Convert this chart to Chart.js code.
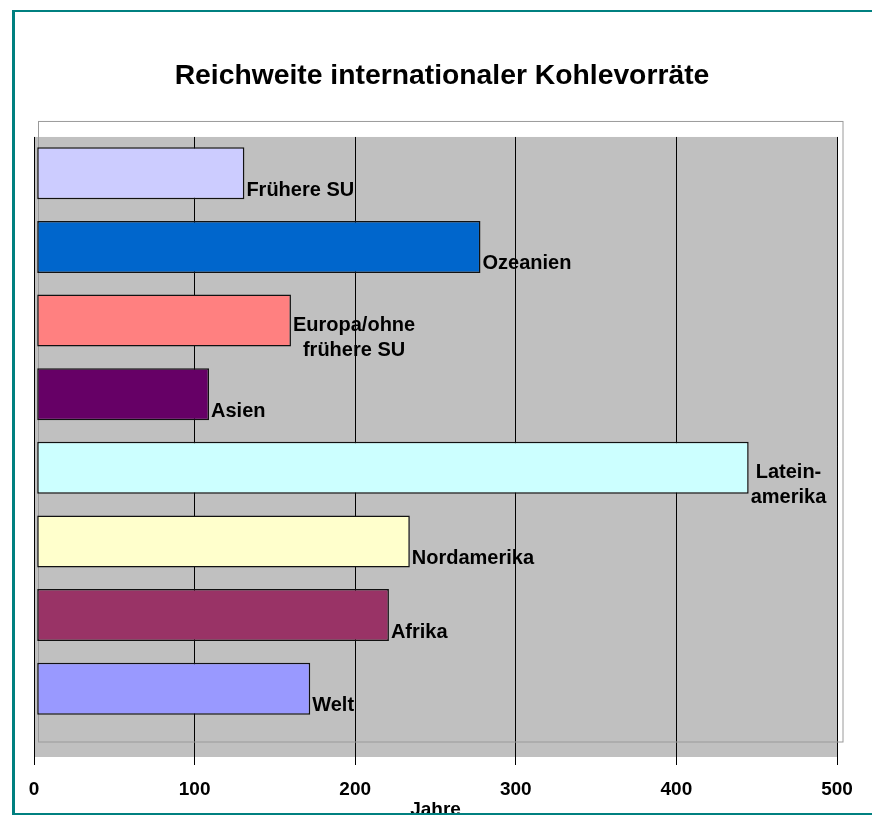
<!DOCTYPE html>
<html><head><meta charset="utf-8">
<script src="https://cdn.jsdelivr.net/npm/chart.js@4/dist/chart.umd.min.js"></script>
<style>
html,body{margin:0;padding:0;background:#fff;overflow:hidden;width:872px;height:816px;}
#wrap{position:relative;width:872px;height:816px;overflow:hidden;}
canvas{position:absolute;left:0;top:0;}
#border{position:absolute;left:12px;top:10px;width:900px;height:805px;box-sizing:border-box;border-left:3px solid #008080;border-top:2px solid #008080;border-bottom:2px solid #008080;pointer-events:none;}
#cover{position:absolute;left:0;top:815px;width:872px;height:1px;background:#fff;}
</style></head><body>
<div id="wrap"><canvas id="c" width="872" height="816"></canvas><div id="border"></div><div id="cover"></div></div>
<script>
const categories = [["Frühere SU"], ["Ozeanien"], ["Europa/ohne", "frühere SU"], ["Asien"], ["Latein-", "amerika"], ["Nordamerika"], ["Afrika"], ["Welt"]];
const values = [131, 278, 160, 109, 445, 234, 221, 172];
const barColors = ['#CCCCFF', '#0066CC', '#FF8080', '#660066', '#CCFFFF', '#FFFFCC', '#993366', '#9999FF'];
const xTicks = [0, 100, 200, 300, 400, 500];
const chartTitle = 'Reichweite internationaler Kohlevorräte';
const axisTitle = 'Jahre';

const FAMILY = '"Liberation Sans", Arial, Helvetica, sans-serif';
Chart.defaults.font.family = FAMILY;
Chart.defaults.color = '#000';

const bgPlugin = {
  id: 'bg',
  beforeDraw(chart) {
    const {ctx, chartArea: a} = chart;
    ctx.save();
    ctx.fillStyle = '#fff';
    ctx.fillRect(0, 0, chart.width, chart.height);
    ctx.fillStyle = '#C0C0C0';
    ctx.fillRect(a.left, a.top, a.right - a.left, a.bottom - a.top);
    ctx.restore();
  },
  beforeDatasetsDraw(chart) {
    const {ctx, chartArea: a} = chart;
    ctx.save();
    ctx.strokeStyle = '#9a9a9a';
    ctx.lineWidth = 1;
    ctx.strokeRect(a.left + 4.5, a.top - 15.5, (a.right + 6) - (a.left + 4.5), (a.bottom - 15) - (a.top - 15.5));
    ctx.restore();
  }
};

const labelPlugin = {
  id: 'barLabels',
  afterDatasetsDraw(chart) {
    const {ctx} = chart;
    const meta = chart.getDatasetMeta(0);
    ctx.save();
    ctx.font = 'bold 20px ' + FAMILY;
    ctx.fillStyle = '#000';
    ctx.textBaseline = 'middle';
    ctx.textAlign = 'center';
    meta.data.forEach((bar, i) => {
      const lines = categories[i];
      const w = Math.max(...lines.map(l => ctx.measureText(l).width));
      const left = bar.x + 2;
      const lh = 25;
      const cy = bar.y + 17;
      lines.forEach((l, j) => {
        const y = cy + (j - (lines.length - 1) / 2) * lh;
        ctx.fillText(l, left + w / 2, y);
      });
    });
    ctx.restore();
  }
};

new Chart(document.getElementById('c'), {
  type: 'bar',
  data: {
    datasets: [{
      data: values.map((v, i) => ({x: v, y: i})),
      backgroundColor: barColors,
      borderColor: '#111',
      borderWidth: 1.5,
      borderSkipped: false,
      base: 2,
      barPercentage: 0.706,
      categoryPercentage: 1
    }]
  },
  options: {
    responsive: false,
    animation: false,
    indexAxis: 'y',
    layout: {padding: {left: 34, right: 22, top: 0, bottom: 0}},
    plugins: {
      legend: {display: false},
      tooltip: {enabled: false},
      title: {
        display: true, text: chartTitle, color: '#000',
        font: {size: 28.3, weight: 'bold', lineHeight: 1.2},
        padding: {top: 59, bottom: 44}
      }
    },
    scales: {
      x: {
        type: 'linear', position: 'bottom', min: 0, max: 500, offset: false,
        grid: {color: '#000', lineWidth: 1, tickLength: 8, drawTicks: true, offset: false},
        border: {display: false},
        ticks: {font: {size: 19, weight: 'bold'}, padding: 13.6, color: '#000'},
        afterBuildTicks: s => { s.ticks = xTicks.map(v => ({value: v})); },
        afterFit: s => { s.height = 59; },
        title: {display: true, text: axisTitle, color: '#000', font: {size: 19, weight: 'bold', lineHeight: '12px'}, padding: 0}
      },
      y: {
        type: 'linear', position: 'right', reverse: true, min: -0.493, max: 7.928, offset: false,
        grid: {display: false, offset: false}, border: {display: false}, ticks: {display: false},
        afterBuildTicks: s => { s.ticks = categories.map((c, i) => ({value: i})); },
        afterFit: s => { s.width = 13; }
      }
    }
  },
  plugins: [bgPlugin, labelPlugin]
});
</script>
</body></html>
